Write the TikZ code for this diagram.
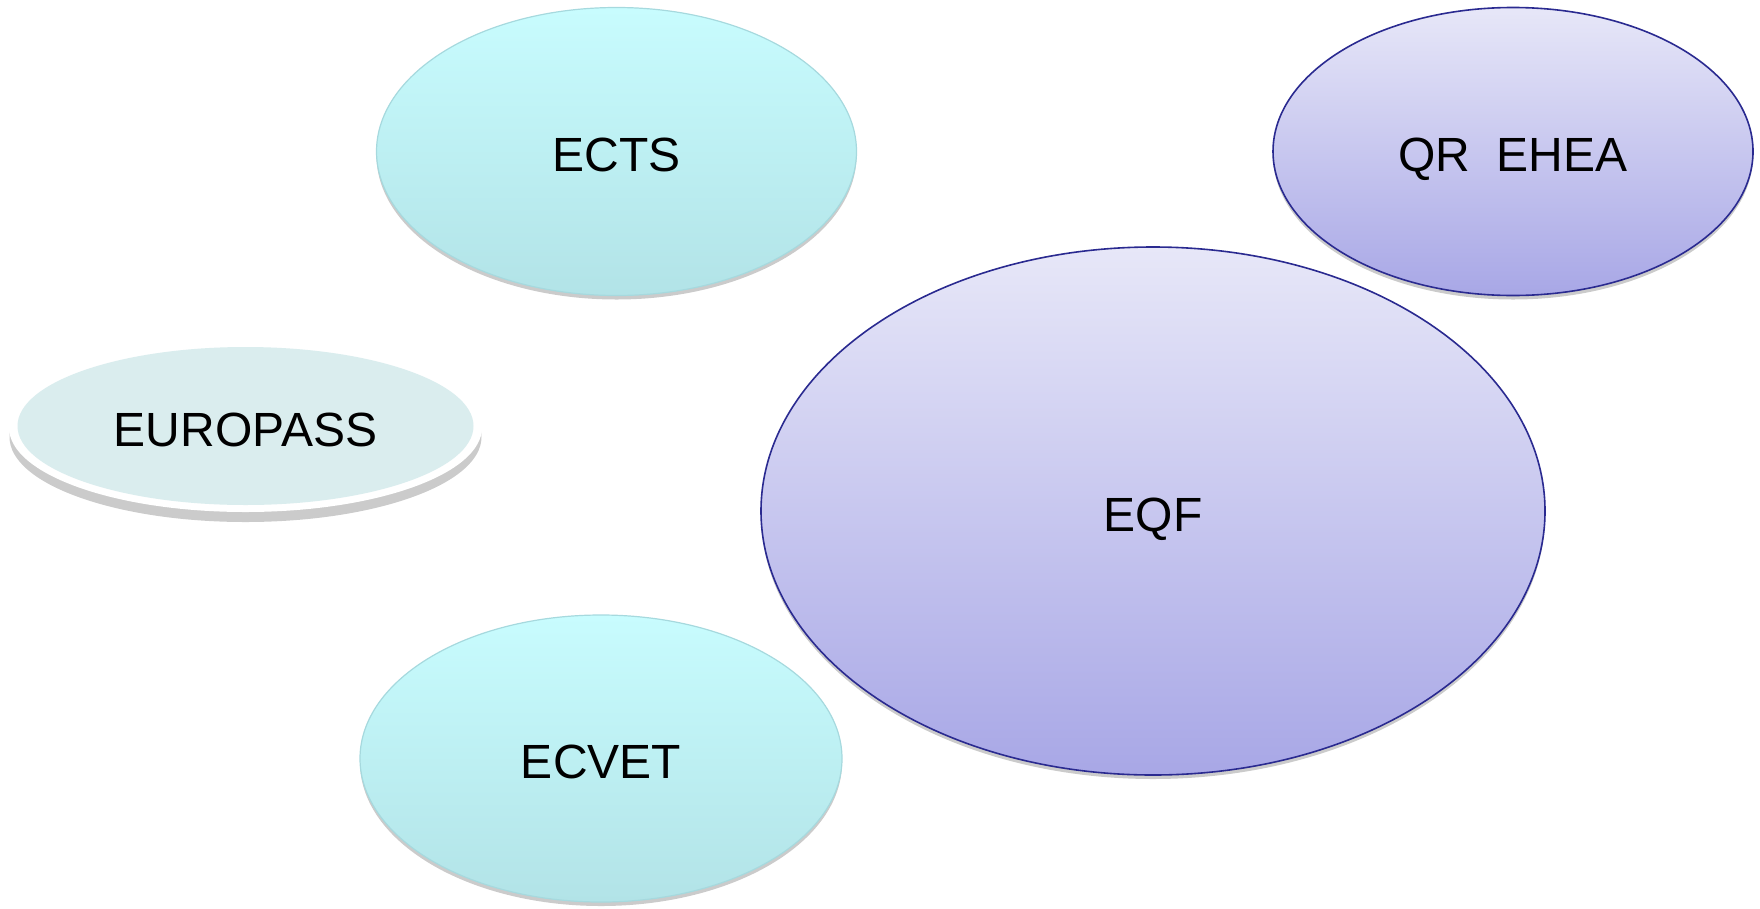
\documentclass[tikz,border=0pt]{standalone}
\usepackage{fontspec}
\setmainfont{Liberation Sans}
\usetikzlibrary{shapes.geometric,shadows}
\definecolor{cyantop}{HTML}{C8FCFE}
\definecolor{cyanbot}{HTML}{B2E3E7}
\definecolor{cyanline}{HTML}{A6D9DE}
\definecolor{violtop}{HTML}{E7E7F8}
\definecolor{violbot}{HTML}{A8A7E6}
\definecolor{violline}{HTML}{2A2A90}
\definecolor{shadowgray}{HTML}{CBCBCB}
\definecolor{paleblue}{HTML}{DAEDEE}
\tikzset{
  labeltext/.style={inner sep=0pt, font=\fontsize{48}{48}\selectfont, text height=40.5pt, text depth=0pt},
  bubble/.style={ellipse, labeltext,
     drop shadow={shadow xshift=0pt, shadow yshift=-4pt, fill=shadowgray, opacity=1}},
  cyanbubble/.style={bubble, draw=cyanline, line width=1.2pt, top color=cyantop, bottom color=cyanbot},
  violbubble/.style={bubble, draw=violline, line width=1.6pt, top color=violtop, bottom color=violbot},
}
\begin{document}
\begin{tikzpicture}[x=1pt,y=-1pt]
\useasboundingbox (0,0) rectangle (1760,908);
% EUROPASS backdrop: shadow and white rim
\fill[shadowgray] (245.5,437) ellipse (236 and 85);
\fill[white] (245.5,427.5) ellipse (236.5 and 84.5);
\node[ellipse, labeltext, fill=paleblue, minimum width=456pt, minimum height=158pt] (europass) at (245.5,426) {EUROPASS};
\node[cyanbubble, minimum width=480pt, minimum height=288pt] (ects) at (616.5,151.5) {ECTS};
\node[violbubble, minimum width=480pt, minimum height=288pt] (qrehea) at (1513,151.5) {QR\ \ EHEA};
\node[violbubble, minimum width=784pt, minimum height=528pt] (eqf) at (1153,511) {EQF};
\node[cyanbubble, minimum width=482pt, minimum height=287pt] (ecvet) at (601,758.5) {ECVET};
\end{tikzpicture}
\end{document}
